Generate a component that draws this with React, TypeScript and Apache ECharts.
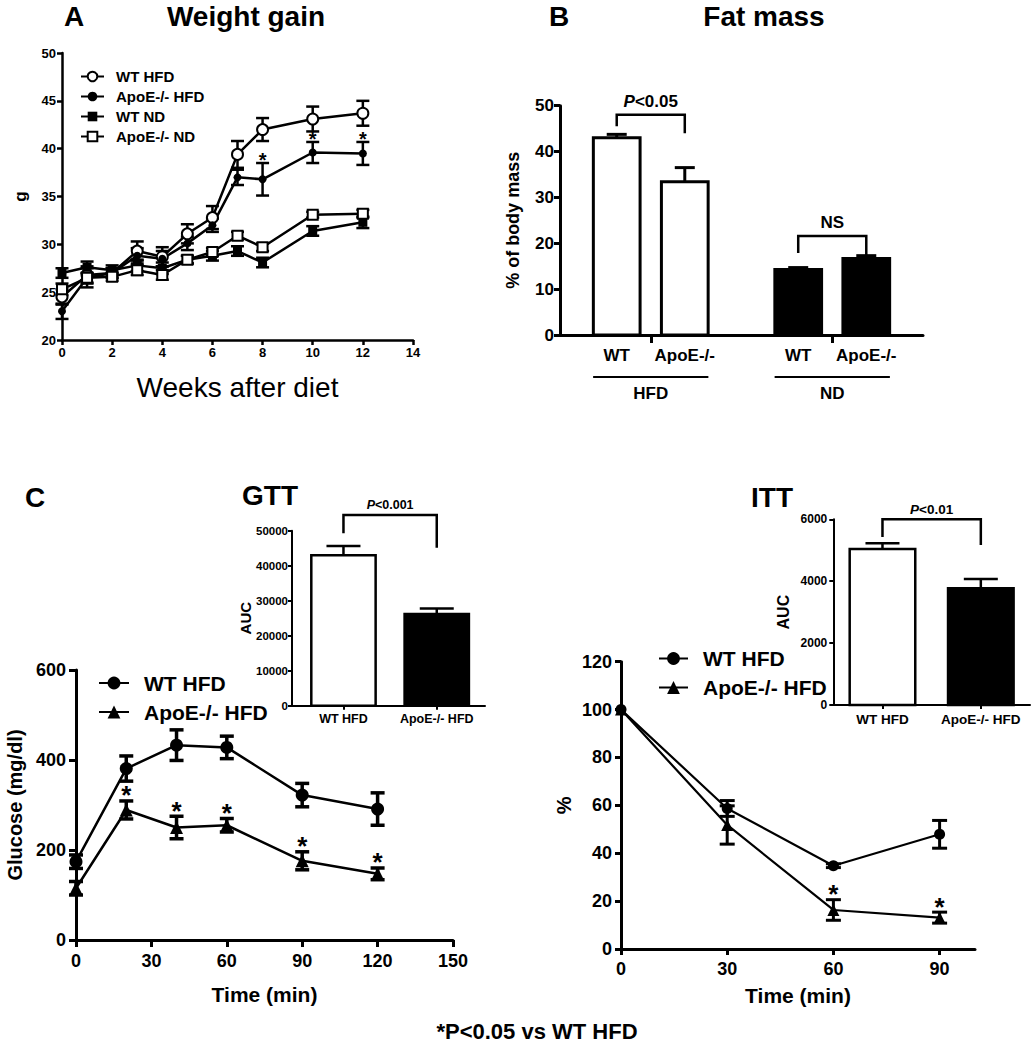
import React, { useEffect, useRef } from 'react';
import * as echarts from 'echarts';

const FONT = '"Liberation Sans", Arial, Helvetica, sans-serif';
const INK = '#000000';

// ---------------- Panel A: weight gain ----------------
const weeks = [0, 1, 2, 3, 4, 5, 6, 7, 8, 10, 12];
const weightWtHfd = [24.5, 26.8, 27.0, 29.3, 28.7, 31.1, 32.8, 39.4, 42.0, 43.1, 43.7];
const weightWtHfdErr = [0.8, 0.9, 0.5, 1.0, 1.0, 1.0, 1.2, 1.4, 1.2, 1.3, 1.3];
const weightApoeHfd = [23.0, 26.5, 27.0, 28.8, 28.5, 30.1, 32.0, 37.0, 36.8, 39.6, 39.5];
const weightApoeHfdErr = [0.8, 1.0, 0.5, 0.8, 0.8, 0.7, 0.7, 0.8, 1.7, 1.1, 1.2];
const weightWtNd = [27.0, 27.6, 27.3, 27.8, 27.5, 28.4, 28.8, 29.3, 28.1, 31.4, 32.3];
const weightWtNdErr = [0.5, 0.6, 0.5, 0.6, 0.6, 0.4, 0.5, 0.5, 0.5, 0.5, 0.6];
const weightApoeNd = [25.3, 26.5, 26.6, 27.3, 26.8, 28.4, 29.2, 30.9, 29.7, 33.1, 33.2];
const weightApoeNdErr = [0.6, 0.5, 0.4, 0.5, 0.5, 0.4, 0.4, 0.4, 0.4, 0.3, 0.4];
const weightStarWeeks = [8, 10, 12];

// ---------------- Panel B: fat mass ----------------
const fatGroups = ['HFD', 'ND'];
const fatGenotypes = ['WT', 'ApoE-/-', 'WT', 'ApoE-/-'];
const fatValues = [43.0, 33.4, 14.3, 16.7];
const fatErrors = [0.75, 3.1, 0.4, 0.6];
const fatBracketLabels = ['{i|P}<0.05', 'NS'];
const fatBracketTop = [48.0, 21.6];
const fatBracketLegs = [[45.5, 44.0], [17.9, 17.0]];

// ---------------- Panel C: GTT ----------------
const gttTimes = [0, 20, 40, 60, 90, 120];
const gttWt = [174, 381, 433, 428, 322, 291];
const gttWtErr = [15, 28, 34, 25, 26, 36];
const gttApoe = [115, 289, 250, 255, 176, 147];
const gttApoeErr = [15, 20, 25, 15, 20, 13];
const gttStarTimes = [20, 40, 60, 90, 120];
const gttAucLabels = ['WT HFD', 'ApoE-/- HFD'];
const gttAuc = [43000, 26200];
const gttAucErr = [2600, 1600];
const gttBracket = { label: '{i|P}<0.001', top: 54500, legs: [49300, 45100] };

// ---------------- Panel C: ITT ----------------
const ittTimes = [0, 30, 60, 90];
const ittWt = [100, 58.7, 34.8, 47.9];
const ittWtErr = [0, 3.3, 0.8, 5.8];
const ittApoe = [100, 51.8, 16.3, 13.1];
const ittApoeErr = [0, 8.0, 4.3, 2.3];
const ittStarTimes = [60, 90];
const ittAucLabels = ['WT HFD', 'ApoE-/- HFD'];
const ittAuc = [5040, 3770];
const ittAucErr = [185, 300];
const ittBracket = { label: '{i|P}<0.01', top: 6000, legs: [5430, 5170] };

const legendNames: Record<string, string> = {
  aWtHfd: 'WT HFD', aApoeHfd: 'ApoE-/- HFD', aWtNd: 'WT ND', aApoeNd: 'ApoE-/- ND',
  gWt: 'WT HFD', gApoe: 'ApoE-/- HFD', iWt: 'WT HFD', iApoe: 'ApoE-/- HFD',
};

// layout helpers (positions on the hidden value axes of the bar panels)
const fatX = fatValues.map((_, i) => 1.25 + Math.floor(i / 2) * 4 + (i % 2) * 1.5);
const gttAucX = gttAuc.map((_, i) => 0.8 + i * 1.45);
const ittAucX = ittAuc.map((_, i) => 0.75 + i * 1.5);
const FAT_FILLS = ['#fff', '#fff', INK, INK];
const AUC_FILLS = ['#fff', INK];

const txt = (size: number, weight: any = 'bold') => ({ fontFamily: FONT, fontSize: size, fontWeight: weight, color: INK });

function makeAxis(o: any) {
  const lw = o.lineWidth ?? 2.5;
  const ax: any = {
    type: 'value', gridIndex: o.grid, min: o.min, max: o.max,
    axisLine: { show: true, onZero: false, lineStyle: { color: INK, width: lw } },
    axisTick: { show: true, inside: false, length: o.tick ?? 6, lineStyle: { color: INK, width: lw } },
    axisLabel: { show: true, ...txt(o.fontSize), margin: o.margin ?? 8, hideOverlap: false, formatter: (v: number) => String(v) },
    splitLine: { show: false },
    minorTick: { show: false },
  };
  if (o.interval != null) ax.interval = o.interval;
  if (o.ticks) ax.axisTick.customValues = o.ticks;
  if (o.labelsAt) {
    ax.axisLabel.customValues = o.labelsAt;
    const names = o.labelNames;
    ax.axisLabel.formatter = (v: number) => {
      const k = o.labelsAt.findIndex((p: number) => Math.abs(p - v) < 1e-6);
      return k >= 0 ? (names ? names[k] : String(v)) : '';
    };
  }
  if (o.name) {
    ax.name = o.name;
    ax.nameLocation = 'middle';
    ax.nameGap = o.nameGap;
    ax.nameTextStyle = txt(o.nameSize, o.nameWeight ?? 'bold');
    ax.nameMoveOverlap = false;
  }
  return ax;
}

function lineSeries(name: string, idx: number, xs: number[], ys: number[], symbol: string, size: number, filled: boolean, lw: number) {
  return {
    type: 'line', name, xAxisIndex: idx, yAxisIndex: idx,
    data: xs.map((x, i) => [x, ys[i]]),
    symbol, symbolSize: size, showSymbol: true, showAllSymbol: true,
    itemStyle: { color: filled ? INK : '#fff', borderColor: INK, borderWidth: filled ? 0 : 2 },
    lineStyle: { color: INK, width: lw },
    z: 5, silent: true, emphasis: { disabled: true },
  };
}

function errorBars(idx: number, xs: number[], ys: number[], es: number[], capHalf: number, lw: number) {
  return {
    type: 'custom', xAxisIndex: idx, yAxisIndex: idx, z: 3, silent: true,
    data: xs.map((x, i) => [x, ys[i], es[i]]),
    renderItem: (params: any, api: any) => {
      const x = api.value(0), y = api.value(1), e = api.value(2);
      if (!(e > 0)) return { type: 'group', children: [] };
      const lo = api.coord([x, y - e]);
      const hi = api.coord([x, y + e]);
      const style = { stroke: INK, lineWidth: lw };
      return {
        type: 'group', children: [
          { type: 'line', shape: { x1: lo[0], y1: lo[1], x2: hi[0], y2: hi[1] }, style },
          { type: 'line', shape: { x1: hi[0] - capHalf, y1: hi[1], x2: hi[0] + capHalf, y2: hi[1] }, style },
          { type: 'line', shape: { x1: lo[0] - capHalf, y1: lo[1], x2: lo[0] + capHalf, y2: lo[1] }, style },
        ],
      };
    },
  };
}

function bars(idx: number, xs: number[], vs: number[], es: number[], fills: string[], halfW: number, capHalf: number, lw: number) {
  return {
    type: 'custom', xAxisIndex: idx, yAxisIndex: idx, z: 3, silent: true,
    data: xs.map((x, i) => [x, vs[i], es[i]]),
    renderItem: (params: any, api: any) => {
      const i = params.dataIndex;
      const x = api.value(0), v = api.value(1), e = api.value(2);
      const bl = api.coord([x - halfW, 0]);
      const tr = api.coord([x + halfW, v]);
      const top = api.coord([x, v + e]);
      const s = { stroke: INK, lineWidth: lw };
      return {
        type: 'group', children: [
          { type: 'line', shape: { x1: top[0], y1: tr[1], x2: top[0], y2: top[1] }, style: s },
          { type: 'line', shape: { x1: top[0] - capHalf, y1: top[1], x2: top[0] + capHalf, y2: top[1] }, style: s },
          { type: 'rect', shape: { x: bl[0], y: tr[1], width: tr[0] - bl[0], height: bl[1] - tr[1] }, style: { fill: fills[i], stroke: INK, lineWidth: lw } },
        ],
      };
    },
  };
}

function bracket(idx: number, x1: number, x2: number, top: number, legs: number[], label: string, fs: number, textGap: number, lw: number) {
  return {
    type: 'custom', xAxisIndex: idx, yAxisIndex: idx, z: 6, silent: true, clip: false,
    data: [[x1, top, x2, legs[0], legs[1]]],
    renderItem: (params: any, api: any) => {
      const a = api.coord([api.value(0), api.value(3)]);
      const b = api.coord([api.value(0), api.value(1)]);
      const c = api.coord([api.value(2), api.value(1)]);
      const d = api.coord([api.value(2), api.value(4)]);
      return {
        type: 'group', children: [
          { type: 'polyline', shape: { points: [a, b, c, d] }, style: { stroke: INK, lineWidth: lw, fill: null } },
          {
            type: 'text', x: (b[0] + c[0]) / 2, y: b[1] - textGap,
            style: {
              text: label, fill: INK, fontFamily: FONT, fontSize: fs, fontWeight: 'bold',
              align: 'center', verticalAlign: 'middle',
              rich: { i: { fontStyle: 'italic', fontWeight: 'bold', fontSize: fs, fontFamily: FONT, fill: INK } },
            },
          },
        ],
      };
    },
  };
}

function stars(idx: number, times: number[], xs: number[], ys: number[], es: number[], fs: number, gap: number) {
  const pts = times.map((t) => { const i = xs.indexOf(t); return [t, ys[i], es[i]]; });
  return {
    type: 'custom', xAxisIndex: idx, yAxisIndex: idx, z: 6, silent: true, clip: false,
    data: pts,
    renderItem: (params: any, api: any) => {
      const p = api.coord([api.value(0), api.value(1) + api.value(2)]);
      return {
        type: 'text', x: p[0], y: p[1] - gap + 0.17 * fs,
        style: { text: '*', fill: INK, fontFamily: FONT, fontSize: fs, fontWeight: 'bold', align: 'center', verticalAlign: 'middle' },
      };
    },
  };
}

function groupLines(idx: number) {
  return {
    type: 'custom', xAxisIndex: idx, yAxisIndex: idx, z: 6, silent: true, clip: false,
    data: fatGroups.map((_, g) => [fatX[g * 2] - 0.52, 0, fatX[g * 2 + 1] + 0.52]),
    renderItem: (params: any, api: any) => {
      const l = api.coord([api.value(0), 0]);
      const r = api.coord([api.value(2), 0]);
      return {
        type: 'group', children: [
          { type: 'line', shape: { x1: l[0], y1: l[1] + 42, x2: r[0], y2: r[1] + 42 }, style: { stroke: INK, lineWidth: 2 } },
          {
            type: 'text', x: (l[0] + r[0]) / 2, y: l[1] + 58,
            style: { text: fatGroups[params.dataIndex], fill: INK, fontFamily: FONT, fontSize: 17, fontWeight: 'bold', align: 'center', verticalAlign: 'middle' },
          },
        ],
      };
    },
  };
}

function title(text: string, x: number, y: number, fs: number) {
  return {
    type: 'text', x, y, silent: true,
    style: { text, fill: INK, fontFamily: FONT, fontSize: fs, fontWeight: 'bold', align: 'center', verticalAlign: 'middle', textAlign: 'center', textVerticalAlign: 'middle' },
  };
}

function legend(left: number, top: number, data: string[], w: number, h: number, gap: number, fs: number, pad: number) {
  return {
    left, top, orient: 'vertical', padding: 0, itemWidth: w, itemHeight: h, itemGap: gap,
    selectedMode: false, data, formatter: (n: string) => legendNames[n],
    textStyle: { ...txt(fs), padding: [0, 0, 0, pad] },
  };
}

function buildOption(): any {
  const grid = [
    { left: 62, top: 53, width: 351, height: 287 },
    { left: 560, top: 105.7, width: 363, height: 229.3 },
    { left: 292, top: 530.7, width: 193, height: 175 },
    { left: 76, top: 670, width: 377, height: 270 },
    { left: 833.3, top: 519.3, width: 196.7, height: 185.7 },
    { left: 621, top: 661.7, width: 354, height: 287.3 },
  ].map((g) => ({ ...g, containLabel: false, outerBoundsMode: 'none', show: false }));

  const xAxis = [
    makeAxis({ grid: 0, min: 0, max: 14, interval: 2, fontSize: 13, margin: 6, tick: 5, name: 'Weeks after diet', nameGap: 33, nameSize: 28, nameWeight: 'normal' }),
    makeAxis({ grid: 1, min: 0, max: 8, fontSize: 17, margin: 12, tick: 8, lineWidth: 3, ticks: [2, 6], labelsAt: fatX, labelNames: fatGenotypes }),
    makeAxis({ grid: 2, min: 0, max: 3, fontSize: 12.5, margin: 7, tick: 4, lineWidth: 2, ticks: gttAucX, labelsAt: gttAucX, labelNames: gttAucLabels }),
    makeAxis({ grid: 3, min: 0, max: 150, interval: 30, fontSize: 18, margin: 12, tick: 7, lineWidth: 3, name: 'Time (min)', nameGap: 44, nameSize: 21 }),
    makeAxis({ grid: 4, min: 0, max: 3, fontSize: 13.5, margin: 7, tick: 4, lineWidth: 2, ticks: ittAucX, labelsAt: ittAucX, labelNames: ittAucLabels }),
    makeAxis({ grid: 5, min: 0, max: 100, fontSize: 18, margin: 11, tick: 6, lineWidth: 3, ticks: ittTimes, labelsAt: ittTimes, name: 'Time (min)', nameGap: 36, nameSize: 21 }),
  ];
  const yAxis = [
    makeAxis({ grid: 0, min: 20, max: 50, interval: 5, fontSize: 13, margin: 6, tick: 5, name: 'g', nameGap: 33, nameSize: 17 }),
    makeAxis({ grid: 1, min: 0, max: 50, interval: 10, fontSize: 17, margin: 6, tick: 6, lineWidth: 3, name: '% of body mass', nameGap: 38, nameSize: 18 }),
    makeAxis({ grid: 2, min: 0, max: 50000, interval: 10000, fontSize: 11.5, margin: 4, tick: 4, lineWidth: 2, name: 'AUC', nameGap: 39, nameSize: 15 }),
    makeAxis({ grid: 3, min: 0, max: 600, interval: 200, fontSize: 18, margin: 10, tick: 7, lineWidth: 3, name: 'Glucose (mg/dl)', nameGap: 51, nameSize: 20 }),
    makeAxis({ grid: 4, min: 0, max: 6000, interval: 2000, fontSize: 12, margin: 6, tick: 4, lineWidth: 2, name: 'AUC', nameGap: 42, nameSize: 16 }),
    makeAxis({ grid: 5, min: 0, max: 120, interval: 20, fontSize: 18, margin: 9, tick: 6, lineWidth: 3, name: '%', nameGap: 47, nameSize: 20 }),
  ];

  const series: any[] = [
    // Panel A
    errorBars(0, weeks, weightWtHfd, weightWtHfdErr, 6.5, 2.5),
    errorBars(0, weeks, weightApoeHfd, weightApoeHfdErr, 6.5, 2.5),
    errorBars(0, weeks, weightWtNd, weightWtNdErr, 6.5, 2.5),
    errorBars(0, weeks, weightApoeNd, weightApoeNdErr, 6.5, 2.5),
    lineSeries('aWtHfd', 0, weeks, weightWtHfd, 'circle', 11, false, 2.5),
    lineSeries('aApoeHfd', 0, weeks, weightApoeHfd, 'circle', 8, true, 2.5),
    lineSeries('aWtNd', 0, weeks, weightWtNd, 'rect', 9, true, 2.5),
    lineSeries('aApoeNd', 0, weeks, weightApoeNd, 'rect', 10, false, 2.5),
    stars(0, weightStarWeeks, weeks, weightApoeHfd, weightApoeHfdErr, 20, 6),
    // Panel B
    bars(1, fatX, fatValues, fatErrors, FAT_FILLS, 0.515, 10, 3),
    bracket(1, fatX[0], fatX[1], fatBracketTop[0], fatBracketLegs[0], fatBracketLabels[0], 17, 13, 2.5),
    bracket(1, fatX[2], fatX[3], fatBracketTop[1], fatBracketLegs[1], fatBracketLabels[1], 17, 13, 2.5),
    groupLines(1),
    // GTT inset
    bars(2, gttAucX, gttAuc, gttAucErr, AUC_FILLS, 0.5, 17, 2.5),
    bracket(2, gttAucX[0], gttAucX[1], gttBracket.top, gttBracket.legs, gttBracket.label, 12.5, 10, 2.5),
    // GTT main
    errorBars(3, gttTimes, gttWt, gttWtErr, 7, 3.5),
    errorBars(3, gttTimes, gttApoe, gttApoeErr, 7, 3.5),
    lineSeries('gWt', 3, gttTimes, gttWt, 'circle', 13, true, 2.5),
    lineSeries('gApoe', 3, gttTimes, gttApoe, 'triangle', 13, true, 2.5),
    stars(3, gttStarTimes, gttTimes, gttApoe, gttApoeErr, 26, 10),
    // ITT inset
    bars(4, ittAucX, ittAuc, ittAucErr, AUC_FILLS, 0.5, 17, 2.5),
    bracket(4, ittAucX[0], ittAucX[1], ittBracket.top, ittBracket.legs, ittBracket.label, 13.5, 9.5, 2.5),
    // ITT main
    errorBars(5, ittTimes, ittWt, ittWtErr, 7.5, 3),
    errorBars(5, ittTimes, ittApoe, ittApoeErr, 7.5, 3),
    lineSeries('iWt', 5, ittTimes, ittWt, 'circle', 11, true, 2.2),
    lineSeries('iApoe', 5, ittTimes, ittApoe, 'triangle', 12, true, 2.2),
    stars(5, ittStarTimes, ittTimes, ittApoe, ittApoeErr, 26, 10),
  ];

  return {
    animation: false,
    backgroundColor: '#fff',
    textStyle: { fontFamily: FONT },
    grid,
    xAxis,
    yAxis,
    legend: [
      legend(80, 69, ['aWtHfd', 'aApoeHfd', 'aWtNd', 'aApoeNd'], 23, 12, 5, 15, 7),
      legend(98, 672.5, ['gWt', 'gApoe'], 30, 16, 8, 21, 10),
      legend(658, 648, ['iWt', 'iApoe'], 29, 16, 8, 21, 10),
    ],
    series,
    graphic: [
      title('A', 74, 16, 28),
      title('Weight gain', 246, 16, 28),
      title('B', 559, 16, 28),
      title('Fat mass', 764, 16, 28),
      title('C', 35, 497, 28),
      title('GTT', 270, 495, 28),
      title('ITT', 772, 497, 28),
      title('*P<0.05 vs WT HFD', 537, 1031, 22),
    ],
  };
}

export default function App() {
  const ref = useRef<HTMLDivElement>(null);
  useEffect(() => {
    document.body.style.margin = '0';
    const chart = echarts.init(ref.current as HTMLDivElement, null, { renderer: 'svg', width: 1034, height: 1050 });
    chart.setOption(buildOption());
    return () => chart.dispose();
  }, []);
  return <div ref={ref} style={{ position: 'absolute', left: 0, top: 0, width: 1034, height: 1050, background: '#fff' }} />;
}
